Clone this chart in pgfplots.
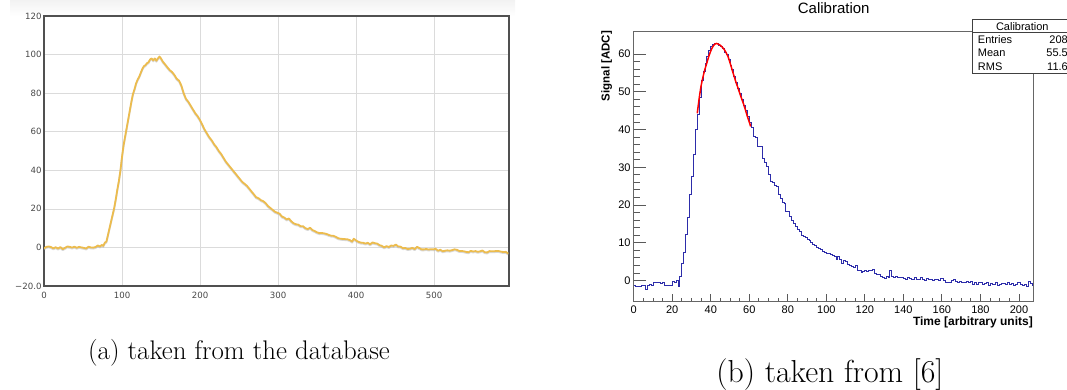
\documentclass[border=0pt]{standalone}
\usepackage{fontspec}
\usepackage{pgfplots}
\usepackage{pgfplotstable}
\pgfplotsset{compat=1.18}
\newfontfamily\dejavu{DejaVu Sans}
\newfontfamily\libsans{Liberation Sans}
\definecolor{curve}{RGB}{236,188,78}
\definecolor{histblue}{RGB}{45,45,170}
\definecolor{framegray}{RGB}{80,80,80}

\pgfplotstableread{
x y
0 -0.5
3 0.3
6 0.5
9 0.2
12 -0.5
15 0.1
18 -0.6
21 0.2
24 -0.9
27 -0.2
30 0.5
33 0.3
36 -0.1
39 0.4
42 -0.2
45 0.3
48 0.0
51 -0.2
54 -0.6
57 0.4
60 0.0
63 -0.1
66 0.2
69 1.0
72 0.5
74 1.3
76 0.8
78 2.5
80 3.0
82 6.5
84 10
86 13.5
88 17
90 20.5
92 25
94 30
96 34.5
98 40
100 47
102 53
104 57.5
106 62
108 66.5
110 71
112 75.5
114 79.5
116 82
118 85
120 87
122 88.5
124 90.5
126 92.5
128 94
130 94.5
132 95.5
134 96
136 97.5
138 98
140 97
142 98
144 96.8
146 98
148 99
150 98
152 96.5
155 95
158 93.5
161 92
164 91
167 89.5
170 87.5
173 86.5
176 84
179 80
182 77
185 75.5
188 73.5
191 71.5
194 69.5
197 68
200 66
203 63.5
206 61
209 59
212 57
215 55.5
218 53.5
221 52
224 50
227 48.5
230 46.5
233 44.5
236 43
239 41.5
242 40
245 38.5
248 37
251 35.5
254 34
257 33
260 32
263 30.5
266 29
269 27.5
272 26
275 25.5
278 24.5
281 24
284 23
287 21.5
290 20.5
293 19.5
296 18.5
299 18
302 17.5
305 16
308 15.5
311 14.5
314 15
317 13.5
320 12.5
323 12
326 11.8
329 11
332 11
335 10
338 9.5
341 10.2
344 9
347 8.5
350 7.8
353 7.4
356 7.5
359 7.3
362 7
365 6.5
368 6.1
371 6.0
374 5.5
377 4.8
380 4.5
383 4.4
386 4.3
389 4.2
392 3.8
395 3.0
397 4.5
400 3.6
403 2.9
406 2.5
409 2.4
412 2.0
415 2.4
418 1.6
421 2.6
424 2.2
427 2.0
430 1.2
433 0.8
436 0.0
439 0.7
442 0.2
445 1.0
448 0.8
451 1.5
454 0.5
457 0.4
460 -0.4
463 -0.3
466 -0.8
469 -0.7
472 -0.2
475 -0.9
478 0.3
481 -0.3
484 -1.0
487 -1.0
490 -0.8
493 -1.1
496 -0.9
499 -1.0
502 -0.7
505 -1.7
508 -1.2
511 -2.0
514 -1.7
517 -1.5
520 -1.7
523 -1.4
526 -1.0
529 -1.2
532 -1.8
535 -1.8
538 -2.0
541 -2.3
544 -2.5
547 -1.8
550 -2.1
553 -1.9
556 -2.3
559 -2.0
562 -1.6
565 -2.5
568 -2.6
571 -1.9
574 -2.0
577 -2.0
580 -1.8
583 -1.9
586 -2.2
589 -2.4
592 -2.3
595 -3.2
}\leftdata

\pgfplotstableread{
x y
0 -1.4
1 -1.5
2 -1.5
3 -1.6
4 -1.4
5 -1.3
6 -2.3
7 -1.2
8 -1.0
9 -1.3
10 -0.4
11 -0.5
12 -0.6
13 -0.5
14 -0.8
15 -0.4
16 -1.3
17 -1.2
18 -1.3
19 -1.4
20 -0.2
21 -0.6
22 0.1
23 -1.5
24 1.2
25 4.6
26 7.5
27 12.1
28 16.8
29 22.9
30 27.5
31 33.4
32 39.9
33 44.1
34 48.5
35 53
36 55.5
37 57.5
38 59.3
39 61
40 62
41 62.5
42 62.8
43 62.7
44 62.3
45 62
46 61.5
47 60.5
48 59.8
49 58.5
50 57
51 55.8
52 54
53 52.5
54 51
55 49.5
56 48
57 46.5
58 45
59 43.5
60 42
61 40.5
62 38.3
63 37.9
64 35.6
65 35.5
66 35.4
67 32.3
68 31.2
69 30.2
70 28.2
71 26.3
72 26.0
73 25.3
74 24.8
75 22.7
76 21.8
77 20.6
78 20.4
79 18.4
80 18.2
81 17.0
82 15.8
83 15.2
84 14.3
85 13.5
86 13.0
87 12.0
88 11.8
89 11.3
90 10.8
91 10.5
92 10.0
93 9.6
94 9.3
95 8.8
96 8.4
97 8.2
98 7.8
99 7.5
100 7.3
101 7.2
102 7.0
103 6.6
104 6.4
105 5.6
106 6.5
107 5.5
108 4.6
109 5.3
110 5.1
111 4.2
112 4.1
113 3.8
114 3.6
115 3.9
116 2.6
117 2.7
118 2.1
119 2.4
120 2.6
121 2.5
122 2.6
123 2.7
124 3.0
125 1.9
126 1.5
127 1.6
128 1.0
129 0.8
130 0.6
131 1.2
132 0.9
133 2.6
134 1.0
135 0.9
136 1.1
137 0.8
138 0.7
139 0.9
140 0.6
141 0.3
142 0.8
143 0.5
144 0.4
145 0.2
146 0.7
147 0.3
148 0.4
149 0.9
150 0.3
151 0.1
152 0.5
153 0.2
154 0.3
155 0.0
156 0.3
157 0.2
158 0.0
159 0.5
160 0.6
161 0.1
162 -0.5
163 -0.6
164 -0.4
165 -0.1
166 0.4
167 -0.3
168 -0.5
169 -0.3
170 -0.5
171 -0.4
172 -0.6
173 -0.2
174 -0.6
175 -0.3
176 -0.9
177 -0.4
178 -1.0
179 -0.5
180 -0.6
181 -1.0
182 -0.8
183 -0.5
184 -1.2
185 -0.8
186 -0.9
187 -1.0
188 -0.6
189 -1.3
190 -1.0
191 -0.8
192 -0.7
193 -0.9
194 -0.6
195 -1.0
196 -0.7
197 -1.3
198 -1.0
199 -0.5
200 -0.6
201 -1.0
202 -1.4
203 -0.9
204 -1.5
205 -0.3
206 -0.7
207 -1.4
208 -1.4
}\histdata

\pgfplotstableread{
x y
33 44.3
34 48.3
35 51.6
36 54.0
37 56.0
38 57.7
39 59.4
40 60.8
41 61.9
42 62.6
43 62.8
44 62.6
45 62.3
46 61.8
47 61.2
48 60.3
49 59.3
50 57.7
51 56.0
52 54.3
53 52.7
54 51.2
55 49.7
56 48.2
57 46.8
58 45.2
59 43.5
60 42.0
60.7 40.8
}\fitdata

\begin{document}
\begin{tikzpicture}[x=1pt,y=1pt]
\useasboundingbox (0,0) rectangle (1067,389);
\clip (0,0) rectangle (1067,389);
\shade[top color=black!5, bottom color=white] (10,373) rectangle (515,389);

% ---------------- left chart ----------------
\begin{axis}[
  scale only axis, width=465pt, height=270pt,
  at={(44pt,103pt)}, anchor=south west,
  xmin=0, xmax=596, ymin=-20, ymax=120,
  xtick={0,100,...,500},
  ytick={-20,0,20,40,60,80,100,120},
  yticklabels={−20.0,0,20,40,60,80,100,120},
  grid=major,
  major grid style={draw=black!14, line width=0.7pt},
  axis line style={draw=framegray, line width=1.3pt},
  major tick length=0pt,
  tick style={draw=none},
  ticklabel style={font=\dejavu\fontsize{8.6}{10}\selectfont, text=black!72, inner sep=0pt},
  yticklabel style={xshift=-2.3pt},
  xticklabel style={yshift=-5.5pt},
  /pgf/number format/assume math mode=true,
]
\addplot[black!30, opacity=0.5, line width=1.8pt, line join=round, yshift=-1pt] table[x=x,y=y] {\leftdata};
\addplot[curve, line width=1.8pt, line join=round] table[x=x,y=y] {\leftdata};
\end{axis}

% ---------------- right chart (y ticks + data) ----------------
\begin{axis}[
  scale only axis, width=399.3pt, height=270.7pt,
  at={(633.7pt,87.3pt)}, anchor=south west,
  xmin=0, xmax=207.3, ymin=-5.6, ymax=66.1,
  axis line style={draw=black!60, line width=0.8pt},
  tick align=inside,
  xtick=\empty,
  ytick={0,10,...,60}, minor y tick num=4, ytick pos=left,
  major tick length=12.7pt, minor tick length=6pt,
  tick style={draw=black!65, line width=0.9pt},
  yticklabel style={font=\libsans\fontsize{11}{13}\selectfont, inner sep=0pt, xshift=-3pt},
  /pgf/number format/assume math mode=true,
]
\addplot[const plot mark left, histblue, line width=0.9pt, mark=none] table[x=x,y=y] {\histdata};
\addplot[red, line width=1.5pt, smooth, mark=none] table[x=x,y=y] {\fitdata};
\end{axis}

% ---------------- right chart (x ticks) ----------------
\begin{axis}[
  scale only axis, width=399.3pt, height=270.7pt,
  at={(633.7pt,87.3pt)}, anchor=south west,
  xmin=0, xmax=207.3, ymin=-5.6, ymax=66.1,
  axis line style={draw=black!60, line width=0.8pt},
  tick align=inside,
  ytick=\empty,
  xtick={0,20,...,200}, minor x tick num=3, xtick pos=bottom,
  major tick length=8pt, minor tick length=4pt,
  tick style={draw=black!65, line width=0.9pt},
  xticklabel style={font=\libsans\fontsize{11}{13}\selectfont, inner sep=0pt, yshift=-3.5pt},
  /pgf/number format/assume math mode=true,
]
\end{axis}

\node[font=\libsans\fontsize{15}{18}\selectfont] at (833.7,380.7) {Calibration};
\node[rotate=90, font=\libsans\bfseries\fontsize{11.5}{14}\selectfont] at (606.7,323) {Signal [ADC]};
\node[anchor=east, inner sep=0pt, font=\libsans\bfseries\fontsize{12}{14}\selectfont] at (1033,66.3) {Time [arbitrary units]};

% stats box
\draw[fill=white, draw=black!75, line width=0.8pt] (972.7,316) rectangle (1072,370);
\draw[black!75, line width=0.8pt] (972.7,356.7) -- (1072,356.7);
\node[font=\libsans\fontsize{11}{13}\selectfont] at (1022.3,362.7) {Calibration};
\node[anchor=west, inner sep=0pt, font=\libsans\fontsize{11}{13}\selectfont] at (977.7,349.7) {Entries};
\node[anchor=west, inner sep=0pt, font=\libsans\fontsize{11}{13}\selectfont] at (977.7,336.3) {Mean};
\node[anchor=west, inner sep=0pt, font=\libsans\fontsize{11}{13}\selectfont] at (977.7,322.3) {RMS};
\node[anchor=east, inner sep=0pt, font=\libsans\fontsize{11}{13}\selectfont] at (1068,349.7) {208};
\node[anchor=east, inner sep=0pt, font=\libsans\fontsize{11}{13}\selectfont] at (1068,336.3) {55.5};
\node[anchor=east, inner sep=0pt, font=\libsans\fontsize{11}{13}\selectfont] at (1068,322.3) {11.6};

% captions
\node[font=\fontsize{26.9}{32}\selectfont] at (239,36.5) {(a) taken from the database};
\node[font=\fontsize{31.8}{38}\selectfont] at (829.9,14.5) {(b) taken from [6]};
\end{tikzpicture}
\end{document}
